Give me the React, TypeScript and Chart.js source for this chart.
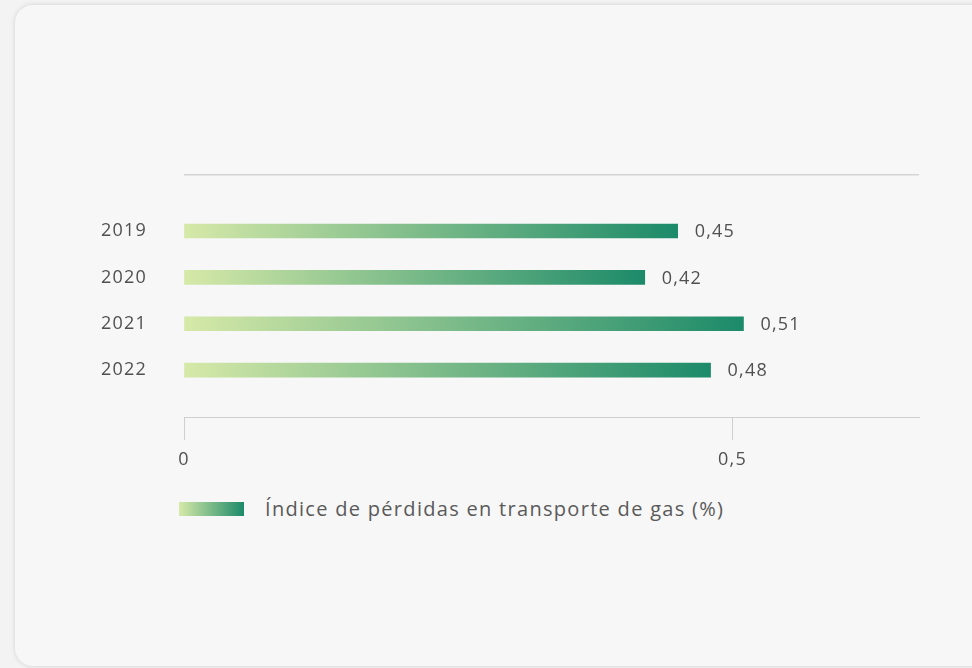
import React, { useEffect, useRef } from 'react';
import { Chart, registerables } from 'chart.js';

Chart.register(...registerables);

const years = ['2019', '2020', '2021', '2022'];
const values = [0.45, 0.42, 0.51, 0.48];
const xTickValues = [0, 0.5];
const legendLabel = 'Índice de pérdidas en transporte de gas (%)';
const gradStart = '#d6e9a8';
const gradEnd = '#1c8a69';
const textColor = '#505050';
const fontFamily = '"Open Sans", Lato, sans-serif';

const fmt = (v: number, digits: number) => v.toFixed(digits).replace('.', ',');

const spacingPlugin = {
  id: 'letterSpacing',
  beforeUpdate(chart: any) {
    chart.ctx.letterSpacing = '1.2px';
  },
  beforeDraw(chart: any) {
    chart.ctx.letterSpacing = '1.2px';
  },
};

const topLinePlugin = {
  id: 'topLine',
  beforeDatasetsDraw(chart: any) {
    const { ctx, chartArea } = chart;
    ctx.save();
    ctx.strokeStyle = '#d4d4d4';
    ctx.lineWidth = 1.5;
    ctx.beginPath();
    ctx.moveTo(chartArea.left, chartArea.top + 0.75);
    ctx.lineTo(chartArea.right, chartArea.top + 0.75);
    ctx.stroke();
    ctx.restore();
  },
};

const valueLabelPlugin = {
  id: 'valueLabels',
  afterDatasetsDraw(chart: any) {
    const { ctx } = chart;
    const meta = chart.getDatasetMeta(0);
    ctx.save();
    ctx.fillStyle = textColor;
    ctx.font = `18px ${fontFamily}`;
    ctx.textAlign = 'left';
    ctx.textBaseline = 'middle';
    meta.data.forEach((bar: any, i: number) => {
      ctx.fillText(fmt(values[i], 2), bar.x + 17, bar.y + 1);
    });
    ctx.restore();
  },
};

export default function App() {
  const canvasRef = useRef<HTMLCanvasElement | null>(null);

  useEffect(() => {
    document.body.style.margin = '0';
    document.body.style.background = '#f3f3f3';
    const canvas = canvasRef.current;
    if (!canvas) return;
    const chart = new Chart(canvas, {
      type: 'bar',
      data: {
        datasets: [
          {
            label: legendLabel,
            data: values.map((v, i) => ({ x: v, y: i })),
            barThickness: 14,
            borderWidth: 0,
            backgroundColor: (ctx: any) => {
              const c = ctx.chart;
              if (!c.chartArea || ctx.dataIndex === undefined) return gradEnd;
              const xs = c.scales.x;
              const v = values[ctx.dataIndex];
              const g = c.ctx.createLinearGradient(xs.getPixelForValue(0), 0, xs.getPixelForValue(v), 0);
              g.addColorStop(0, gradStart);
              g.addColorStop(1, gradEnd);
              return g;
            },
          },
        ],
      },
      options: {
        indexAxis: 'y',
        animation: false,
        responsive: false,
        maintainAspectRatio: false,
        layout: { padding: { top: 174, left: 0, right: 53, bottom: 3 } },
        plugins: {
          legend: { display: false },
          tooltip: { enabled: false },
        },
        scales: {
          x: {
            type: 'linear',
            position: 'bottom',
            min: 0,
            max: 0.67,
            afterBuildTicks: (scale: any) => {
              scale.ticks = xTickValues.map((v) => ({ value: v }));
            },
            afterFit: (scale: any) => {
              scale.height = 60;
            },
            grid: {
              drawOnChartArea: false,
              drawTicks: true,
              tickLength: 23,
              color: '#cfcfcf',
              lineWidth: 1,
            },
            border: { display: true, color: '#cfcfcf', width: 1 },
            ticks: {
              autoSkip: false,
              maxRotation: 0,
              padding: 9,
              color: textColor,
              font: { size: 18, family: fontFamily },
              callback: (v: any) => fmt(Number(v), Number(v) === 0 ? 0 : 1),
            },
          },
          y: {
            type: 'linear',
            reverse: true,
            offset: false,
            min: -1.23,
            max: 4.01,
            afterBuildTicks: (scale: any) => {
              scale.ticks = years.map((_, i) => ({ value: i }));
            },
            afterFit: (scale: any) => {
              scale.width = 184;
            },
            grid: { display: false, drawTicks: false, offset: false },
            border: { display: false },
            ticks: {
              autoSkip: false,
              padding: 37,
              color: textColor,
              font: { size: 18, family: fontFamily },
              callback: (v: any) => years[Number(v)] ?? '',
            },
          },
        },
      },
      plugins: [spacingPlugin, topLinePlugin, valueLabelPlugin],
    } as any);
    return () => chart.destroy();
  }, []);

  return (
    <div style={{ position: 'fixed', left: 0, top: 0, width: 972, height: 668, overflow: 'hidden', background: '#f3f3f3' }}>
      <div
        style={{
          position: 'absolute',
          left: 15,
          top: 5,
          width: 1000,
          height: 661,
          background: '#f7f7f7',
          borderRadius: 18,
          boxShadow: '0 0 5px rgba(0,0,0,0.14)',
        }}
      />
      <canvas
        ref={canvasRef}
        width={972}
        height={480}
        style={{ position: 'absolute', left: 0, top: 0, width: 972, height: 480 }}
      />
      <div
        style={{
          position: 'absolute',
          left: 179,
          top: 502,
          width: 65,
          height: 14,
          background: `linear-gradient(to right, ${gradStart}, ${gradEnd})`,
        }}
      />
      <div
        style={{
          position: 'absolute',
          left: 265,
          top: 495,
          height: 28,
          lineHeight: '28px',
          fontFamily,
          fontSize: 20,
          letterSpacing: '1.3px',
          color: '#5a5a5a',
          whiteSpace: 'nowrap',
        }}
      >
        {legendLabel}
      </div>
    </div>
  );
}
